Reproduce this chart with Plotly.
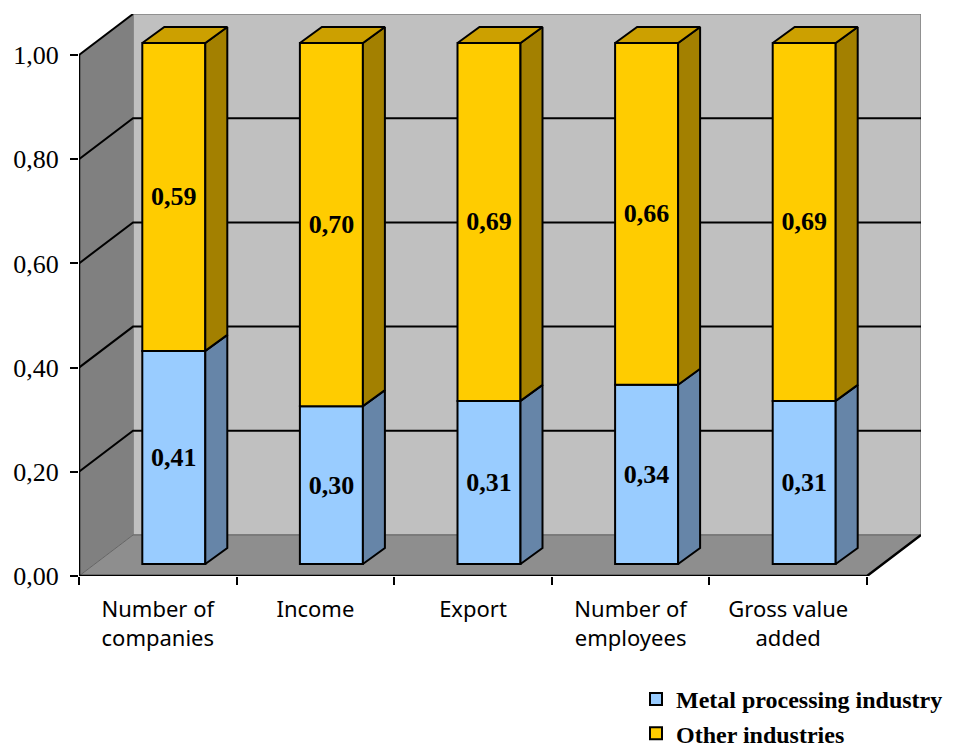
import plotly.graph_objects as go

categories = ["Number of<br>companies", "Income", "Export", "Number of<br>employees", "Gross value<br>added"]
metal = [0.409, 0.303, 0.313, 0.344, 0.313]
other = [0.591, 0.697, 0.687, 0.656, 0.687]
y_ticks = [0, 0.2, 0.4, 0.6, 0.8, 1.0]

PAGE = 8
W, H = 953 - PAGE, 747 - PAGE
L, R, T, B = 79 - PAGE, 921 - PAGE, 14 - PAGE, 576 - PAGE
CAT_PX = 157.6
UNIT_PX = 521.0
DX = 54 / CAT_PX
DY = 41 / UNIT_PX
BDX = 22 / CAT_PX
BDY = 16 / UNIT_PX
BASE = 12 / UNIT_PX
BW = 63 / CAT_PX
SHIFT = 16 / CAT_PX
X0, X1 = -0.5, 4.5
XR = [X0, X0 + (R - L) / CAT_PX]
YR = [0, (B - T) / UNIT_PX]
xs = list(range(len(categories)))
left = [x + SHIFT - BW / 2 for x in xs]
right = [x + SHIFT + BW / 2 for x in xs]
m_top = [BASE + m for m in metal]
o_top = [BASE + m + o for m, o in zip(metal, other)]


def poly(points, fill, line, width=1, axes=("x", "y")):
    px = [p[0] for p in points]
    py = [p[1] for p in points]
    return go.Scatter(x=px, y=py, mode="lines", fill="toself", fillcolor=fill,
                      line=dict(color=line, width=width), showlegend=False,
                      hoverinfo="skip", xaxis=axes[0], yaxis=axes[1], cliponaxis=False)


def faces(pairs):
    pts = []
    for p in pairs:
        pts += p + [(None, None)]
    return pts


fig = go.Figure()
# walls and floor
fig.add_trace(poly([(X0 + DX, DY), (X1 + DX, DY), (X1 + DX, 1 + DY), (X0 + DX, 1 + DY), (X0 + DX, DY)],
                   "#C0C0C0", "#808080", 1.5))
fig.add_trace(poly([(X0, 0), (X0 + DX, DY), (X0 + DX, 1 + DY), (X0, 1), (X0, 0)], "#808080", "#808080", 1))
fig.add_trace(poly([(X0, 0), (X1, 0), (X1 + DX, DY), (X0 + DX, DY), (X0, 0)], "#8E8E8E", "#666666", 1))
# gridlines
for v in y_ticks[1:-1]:
    fig.add_trace(go.Scatter(x=[X0, X0 + DX, X1 + DX], y=[v, v + DY, v + DY], mode="lines",
                             line=dict(color="black", width=2), showlegend=False, hoverinfo="skip"))
fig.add_trace(go.Scatter(x=[X0, X0 + DX], y=[1, 1 + DY], mode="lines",
                         line=dict(color="black", width=2), showlegend=False, hoverinfo="skip",
                         cliponaxis=False))
# axis frame
fig.add_trace(go.Scatter(x=[X0, X0, None, X0, X1, X1 + DX], y=[1, 0, None, 0, 0, DY], mode="lines",
                         line=dict(color="black", width=2.5), showlegend=False, hoverinfo="skip",
                         cliponaxis=False))

# bars
for name, vals, base, col in [("Metal processing industry", metal, [BASE] * 5, "#99CCFF"),
                              ("Other industries", other, m_top, "#FFCC00")]:
    fig.add_trace(go.Bar(x=xs, y=vals, base=base, name=name, legendgroup=name, width=BW,
                         offset=SHIFT - BW / 2,
                         marker=dict(color=col, line=dict(color="black", width=2)),
                         text=[f"{v:.2f}".replace(".", ",") for v in vals],
                         textposition="inside", insidetextanchor="middle", textangle=0,
                         constraintext="none",
                         textfont=dict(family="Liberation Serif", size=26, color="black", weight="bold"),
                         xaxis="x2", yaxis="y2"))

AX2 = ("x2", "y2")
fig.add_trace(poly(faces([[(r, BASE), (r + BDX, BASE + BDY), (r + BDX, t + BDY), (r, t), (r, BASE)]
                          for r, t in zip(right, m_top)]), "#6685A8", "black", 2, AX2))
fig.add_trace(poly(faces([[(r, b), (r + BDX, b + BDY), (r + BDX, t + BDY), (r, t), (r, b)]
                          for r, b, t in zip(right, m_top, o_top)]), "#A38000", "black", 2, AX2))
fig.add_trace(poly(faces([[(l, t), (l + BDX, t + BDY), (r + BDX, t + BDY), (r, t), (l, t)]
                          for l, r, t in zip(left, right, o_top)]), "#CCA000", "black", 2, AX2))

fig.update_layout(
    width=W, height=H, margin=dict(l=L, r=W - R, t=T, b=H - B, autoexpand=False),
    paper_bgcolor="white", plot_bgcolor="white", barmode="overlay", showlegend=True,
    legend=dict(x=(636 - PAGE - L) / (R - L), xanchor="left", y=(B - (677 - PAGE)) / (B - T), yanchor="top",
                traceorder="grouped", tracegroupgap=0, bgcolor="rgba(0,0,0,0)", itemwidth=30, itemclick=False,
                font=dict(family="Liberation Serif", size=24, color="black", weight="bold")),
    xaxis=dict(range=XR, tickvals=[x - 0.5 for x in xs] + [X1], showticklabels=False, ticks="outside",
               ticklen=8, tickwidth=1.5, tickcolor="black", showgrid=False, zeroline=False, showline=False),
    yaxis=dict(range=YR, tickvals=y_ticks, ticktext=[f"{v:.2f}".replace(".", ",") for v in y_ticks],
               ticks="outside", ticklen=8, tickwidth=1.5, tickcolor="black", showgrid=False, zeroline=False,
               showline=False, ticklabelstandoff=6, tickfont=dict(family="Liberation Serif", size=26, color="black")),
    xaxis2=dict(range=XR, overlaying="x", side="bottom", tickvals=xs, ticktext=categories, ticks="",
                showgrid=False, zeroline=False, showline=False, ticklabelstandoff=18, tickangle=0,
                tickfont=dict(family="Noto Sans", size=22, color="black")),
    yaxis2=dict(range=YR, overlaying="y", side="left", showticklabels=False, ticks="",
                showgrid=False, zeroline=False, showline=False),
)
fig.write_html("out.html")
